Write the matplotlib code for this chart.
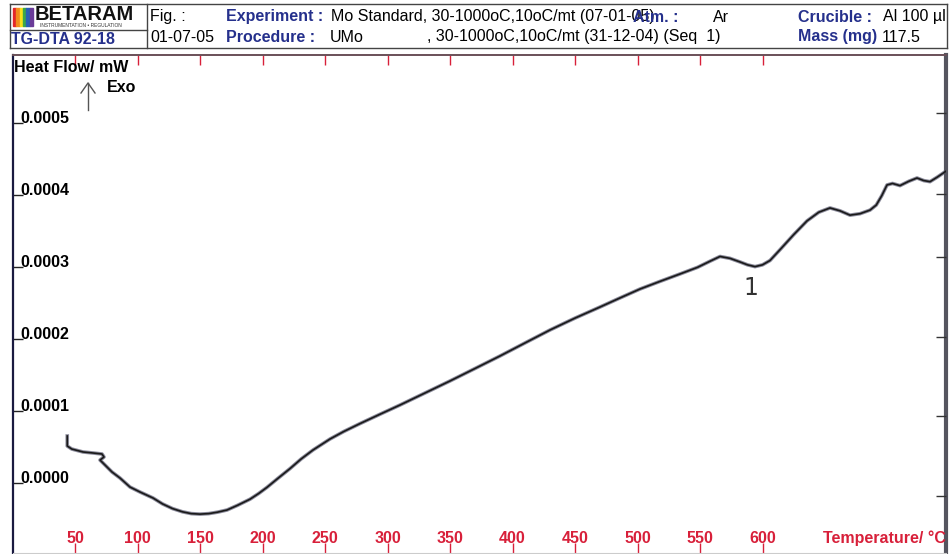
import numpy as np
import matplotlib.pyplot as plt
from matplotlib.lines import Line2D
from matplotlib.patches import Rectangle

# Data.
temperature = [43.8, 43.8, 47.4, 56.4, 64.4, 71.6, 73.2, 70.0, 74.0, 79.6, 86.0,
               94.0, 102.0, 112.4, 120.0, 128.0, 136.0, 143.0, 150.0, 157.0,
               164.0, 171.6, 180.0, 190.0, 197.0, 203.6, 212.0, 222.0, 231.0,
               240.4, 254.0, 265.0, 278.0, 294.0, 310.0, 330.0, 350.0, 370.0,
               390.0, 410.0, 430.0, 450.0, 470.0, 486.0, 502.0, 518.0, 534.0,
               548.0, 558.0, 566.0, 574.0, 582.0, 588.0, 594.0, 600.0, 606.0,
               614.0, 625.0, 635.6, 645.0, 654.0, 662.0, 670.0, 678.0, 686.0,
               691.0, 695.4, 699.6, 704.0, 710.0, 717.0, 723.6, 729.0, 734.0,
               740.0, 747.4]
heat_flow = [0.0000653, 0.0000514, 0.0000472, 0.0000431, 0.0000417, 0.0000403,
             0.0000361, 0.0000319, 0.0000250, 0.0000153, 0.0000069, -0.0000056,
             -0.0000125, -0.0000208, -0.0000290, -0.0000355, -0.0000400,
             -0.0000425, -0.0000432, -0.0000425, -0.0000405, -0.0000375,
             -0.0000310, -0.0000225, -0.0000145, -0.0000060, 0.0000060,
             0.0000200, 0.0000335, 0.0000458, 0.0000611, 0.0000715, 0.0000825,
             0.0000955, 0.0001083, 0.0001250, 0.0001417, 0.0001590, 0.0001764,
             0.0001945, 0.0002125, 0.0002290, 0.0002444, 0.0002570, 0.0002694,
             0.0002800, 0.0002903, 0.0002995, 0.0003080, 0.0003146, 0.0003120,
             0.0003070, 0.0003030, 0.0003005, 0.0003030, 0.0003090, 0.0003240,
             0.0003450, 0.0003640, 0.0003760, 0.0003820, 0.0003780, 0.0003720,
             0.0003740, 0.0003790, 0.0003860, 0.0003990, 0.0004139, 0.0004160,
             0.0004130, 0.0004190, 0.0004236, 0.0004200, 0.0004185, 0.0004250,
             0.0004338]

x_ticks = [50, 100, 150, 200, 250, 300, 350, 400, 450, 500, 550, 600]
y_ticks = [0.0000, 0.0001, 0.0002, 0.0003, 0.0004, 0.0005]
y_tick_labels = ['0.0000', '0.0001', '0.0002', '0.0003', '0.0004', '0.0005']

# Right hand ticks of the scan (in pixel rows of the page).
right_ticks = [113, 194, 257, 337, 416, 496]

# Colours.
blue = '#25308c'
red = '#d8203a'

plt.rcParams['font.family'] = ['Liberation Sans', 'DejaVu Sans']

W, H = 949, 554
fig = plt.figure(figsize=(W / 100, H / 100), dpi=100)


def fx(px):
    return px / W


def fy(py):
    return 1 - py / H


# Main axes.
ax = fig.add_axes([fx(13), fy(553), fx(946) - fx(13), fy(55) - fy(553)])
ax.plot(temperature, heat_flow, color='#8c8c9c', linewidth=2.6, zorder=2,
        solid_joinstyle='round')
ax.plot(temperature, heat_flow, color='#1a1a1a', linewidth=1.2, zorder=3,
        solid_joinstyle='round')
ax.set_xlim(0.4, 746.8)
ax.set_ylim(-0.0000972, 0.0005944)

# X ticks: red, inside, top and bottom.
ax.set_xticks(x_ticks)
ax.set_xticklabels([str(t) for t in x_ticks])
ax.tick_params(axis='x', direction='in', top=True, bottom=True, length=7,
               width=1, color=red, labelcolor=red, labelsize=11.5, pad=-16)
for lab in ax.get_xticklabels():
    lab.set_fontweight('bold')

# Y ticks: black, inside, labels sitting on the tick.
ax.set_yticks(y_ticks)
ax.set_yticklabels(y_tick_labels)
ax.tick_params(axis='y', direction='in', left=True, right=False, length=7,
               width=1, color='#222222', labelsize=11.5, pad=-5)
for lab in ax.get_yticklabels():
    lab.set_fontweight('bold')
    lab.set_horizontalalignment('left')
    lab.set_verticalalignment('baseline')

# Spines.
ax.spines['left'].set_color('#1a1a40')
ax.spines['left'].set_linewidth(1.6)
ax.spines['right'].set_color('#55555f')
ax.spines['right'].set_linewidth(3)
ax.spines['top'].set_color('#6a5058')
ax.spines['top'].set_linewidth(1.4)
ax.spines['bottom'].set_color('#cccccc')
ax.spines['bottom'].set_linewidth(0.8)

# Right hand ticks on a twin axis.
ax2 = ax.twinx()
ax2.set_ylim(553, 55)
ax2.set_yticks(right_ticks)
ax2.tick_params(axis='y', direction='in', length=7, width=1,
                color='#333333', labelright=False)
for s in ax2.spines.values():
    s.set_visible(False)

# Annotations inside the plot.
fig.text(fx(14), fy(68), 'Heat Flow/ mW', fontsize=11.5, fontweight='bold',
         va='center', ha='left')
fig.add_artist(Line2D([fx(88), fx(88)], [fy(110), fy(83)], color='#555555',
                      linewidth=1))
fig.add_artist(Line2D([fx(81), fx(88), fx(95)], [fy(93), fy(83), fy(93)],
                      color='#555555', linewidth=1))
fig.text(fx(107), fy(88), 'Exo', fontsize=11.5, fontweight='bold',
         va='center', ha='left')
fig.text(fx(751), fy(288), '1', fontsize=17, family='DejaVu Sans',
         color='#333333', va='center', ha='center')
fig.text(fx(946), fy(538), 'Temperature/ °C', fontsize=11.5,
         fontweight='bold', color=red, va='center', ha='right')

# Header frame.
header_lines = [
    ([10, 947], [4, 4]),
    ([10, 947], [48, 48]),
    ([10, 10], [4, 48]),
    ([947, 947], [4, 48]),
    ([147, 147], [4, 48]),
    ([10, 147], [30, 30]),
]
for xs, ys in header_lines:
    fig.add_artist(Line2D([fx(v) for v in xs], [fy(v) for v in ys],
                          color='#444444', linewidth=1))

# Logo.
logo_colors = ['#e3262b', '#f28c1e', '#f7e21b', '#3aa84a', '#2a5fb5', '#6a3b98']
for i, c in enumerate(logo_colors):
    fig.add_artist(Rectangle((fx(13 + i * 3.3), fy(26)), fx(3.3), fy(8) - fy(26),
                             color=c, transform=fig.transFigure))
fig.text(fx(35), fy(15), 'BETARAM', fontsize=14.5, fontweight='bold',
         va='center', ha='left', color='#111111')
fig.text(fx(40), fy(25.5), 'INSTRUMENTATION • REGULATION', fontsize=3.5,
         va='center', ha='left', color='#333333')
fig.text(fx(11), fy(40), 'TG-DTA 92-18', fontsize=11.5, fontweight='bold',
         color=blue, va='center', ha='left')

# Header texts: (x, y, text, colour, bold).
header_texts = [
    (150, 17, 'Fig. :', 'black', False),
    (226, 17, 'Experiment :', blue, True),
    (331, 17, 'Mo Standard, 30-1000oC,10oC/mt (07-01-05)', 'black', False),
    (633, 17, 'Atm. :', blue, True),
    (713, 17, 'Ar', 'black', False),
    (798, 17, 'Crucible :', blue, True),
    (883, 17, 'Al 100 µl', 'black', False),
    (150, 37, '01-07-05', 'black', False),
    (226, 37, 'Procedure :', blue, True),
    (330, 37, 'UMo', 'black', False),
    (427, 37, ', 30-1000oC,10oC/mt (31-12-04) (Seq  1)', 'black', False),
    (798, 37, 'Mass (mg)', blue, True),
    (882, 37, '117.5', 'black', False),
]
for x, y, t, c, b in header_texts:
    fig.text(fx(x), fy(y), t, fontsize=11.5, color=c,
             fontweight='bold' if b else 'normal', va='center', ha='left')

fig.savefig('out.png', dpi=100)
